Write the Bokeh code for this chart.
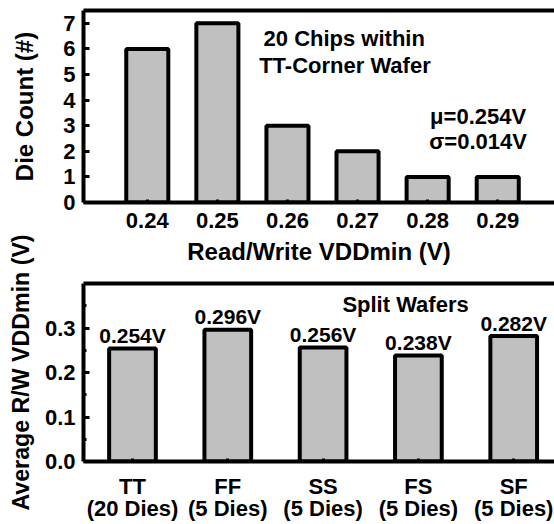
from bokeh.plotting import figure
from bokeh.layouts import column
from bokeh.models import (Range1d, FixedTicker, NumeralTickFormatter, LinearAxis,
                          Label, ColumnDataSource)
from bokeh.core.properties import value
from bokeh.embed import file_html
from bokeh.resources import INLINE

FONT = "Liberation Sans"

# Histogram of read/write VDDmin over the 20 TT-corner chips
vddmin_bins = [0.24, 0.25, 0.26, 0.27, 0.28, 0.29]
die_counts = [6, 7, 3, 2, 1, 1]
count_ticks = [0, 1, 2, 3, 4, 5, 6, 7]
tt_mean = 0.254
tt_sigma = 0.014

# Average VDDmin for each split wafer
corners = ["TT", "FF", "SS", "FS", "SF"]
dies_per_wafer = [20, 5, 5, 5, 5]
avg_vddmin = [0.254, 0.296, 0.256, 0.238, 0.282]
avg_ticks = [0.0, 0.1, 0.2, 0.3]
avg_minor_ticks = [0.05, 0.15, 0.25, 0.35]

BAR_FILL = "#c0c0c0"
LW = 4


def style_axis(ax, label_size="22px"):
    ax.axis_line_width = LW
    ax.axis_line_color = "black"
    ax.major_tick_line_width = 3
    ax.minor_tick_line_width = 3
    ax.major_tick_out = 0
    ax.minor_tick_out = 0
    ax.major_label_text_font = FONT
    ax.major_label_text_font_style = "bold"
    ax.major_label_text_font_size = label_size
    ax.major_label_text_color = "black"
    ax.axis_label_text_font = FONT
    ax.axis_label_text_font_style = "bold"
    ax.axis_label_text_font_size = "24px"
    ax.axis_label_text_color = "black"


def top_border(p, label=None, label_standoff=0):
    border = LinearAxis(ticker=FixedTicker(ticks=[]), major_label_text_font_size="0px",
                        major_label_standoff=0, axis_line_width=LW,
                        major_tick_line_color=None, minor_tick_line_color=None)
    if label:
        border.axis_label = label
        border.axis_label_standoff = label_standoff
        border.axis_label_text_font = FONT
        border.axis_label_text_font_style = "bold"
        border.axis_label_text_font_size = "24px"
        border.axis_label_text_color = "black"
    p.add_layout(border, "above")


def annotate(p, x, y, text, size="22px"):
    p.add_layout(Label(x=x, y=y, text=text, text_align="center", text_baseline="middle",
                       text_font=FONT, text_font_style="bold", text_font_size=size,
                       text_color="black"))


# ---- upper panel: die count histogram ----
p1 = figure(width=554, height=234, x_range=Range1d(0.2309, 0.2981), y_range=Range1d(0, 7.5),
            output_backend="svg", toolbar_location=None,
            min_border_left=82, min_border_right=0, min_border_top=10, min_border_bottom=32)
p1.grid.visible = False
p1.outline_line_color = None

p1.vbar(x=vddmin_bins, top=die_counts, width=0.006, fill_color=BAR_FILL,
        line_color="black", line_width=LW)

style_axis(p1.xaxis[0])
p1.xaxis.ticker = FixedTicker(ticks=vddmin_bins)
p1.xaxis.formatter = NumeralTickFormatter(format="0.00")
p1.xaxis.major_tick_in = 3
p1.xaxis.major_label_standoff = 10
p1.xaxis.major_label_text_line_height = 1.0

style_axis(p1.yaxis[0])
p1.yaxis.ticker = FixedTicker(ticks=count_ticks)
p1.yaxis.major_tick_in = 6
p1.yaxis.major_label_standoff = 8
p1.yaxis.axis_label = "Die Count (#)"
p1.yaxis.axis_label_standoff = 22
top_border(p1)

annotate(p1, 0.2681, 6.41, "20 Chips within")
annotate(p1, 0.2682, 5.35, "TT-Corner Wafer")
annotate(p1, 0.2872, 3.36, f"μ={tt_mean:.3f}V")
annotate(p1, 0.2872, 2.38, f"σ={tt_sigma:.3f}V")

# ---- lower panel: split wafer averages ----
positions = list(range(len(corners)))
src = ColumnDataSource(dict(x=positions, top=avg_vddmin,
                            label=[f"{v:.3f}V" for v in avg_vddmin]))

p2 = figure(width=554, height=290, x_range=Range1d(-0.514, 4.428), y_range=Range1d(0, 0.4),
            output_backend="svg", toolbar_location=None,
            min_border_left=83, min_border_right=0, min_border_top=47, min_border_bottom=59)
p2.grid.visible = False
p2.outline_line_color = None

p2.vbar(x="x", top="top", width=0.49, source=src, fill_color=BAR_FILL,
        line_color="black", line_width=LW)
p2.text(x="x", y="top", text="label", source=src, text_align="center",
        text_baseline="alphabetic", y_offset=-13, text_font=value(FONT),
        text_font_style="bold", text_font_size="21px", text_color="black")

style_axis(p2.xaxis[0])
p2.xaxis.ticker = FixedTicker(ticks=positions)
p2.xaxis.major_label_overrides = {i: f"{c}\n({n} Dies)"
                                  for i, (c, n) in enumerate(zip(corners, dies_per_wafer))}
p2.xaxis.major_tick_in = 3
p2.xaxis.major_label_standoff = 12
p2.xaxis.major_label_text_line_height = 0.9

style_axis(p2.yaxis[0])
p2.yaxis.ticker = FixedTicker(ticks=avg_ticks, minor_ticks=avg_minor_ticks)
p2.yaxis.formatter = NumeralTickFormatter(format="0.0")
p2.yaxis.major_tick_in = 6
p2.yaxis.minor_tick_in = 3
p2.yaxis.major_label_standoff = 8
p2.yaxis.axis_label = "Average R/W VDDmin (V)"
p2.yaxis.axis_label_text_font_size = "23.2px"
p2.yaxis.axis_label_standoff = 8

# the histogram's x-axis title sits on this panel's top border line
top_border(p2, label="Read/Write VDDmin (V)", label_standoff=19)

annotate(p2, 2.865, 0.3533, "Split Wafers")

layout = column(p1, p2, spacing=0)
open("out.html", "w").write(file_html(layout, INLINE))
